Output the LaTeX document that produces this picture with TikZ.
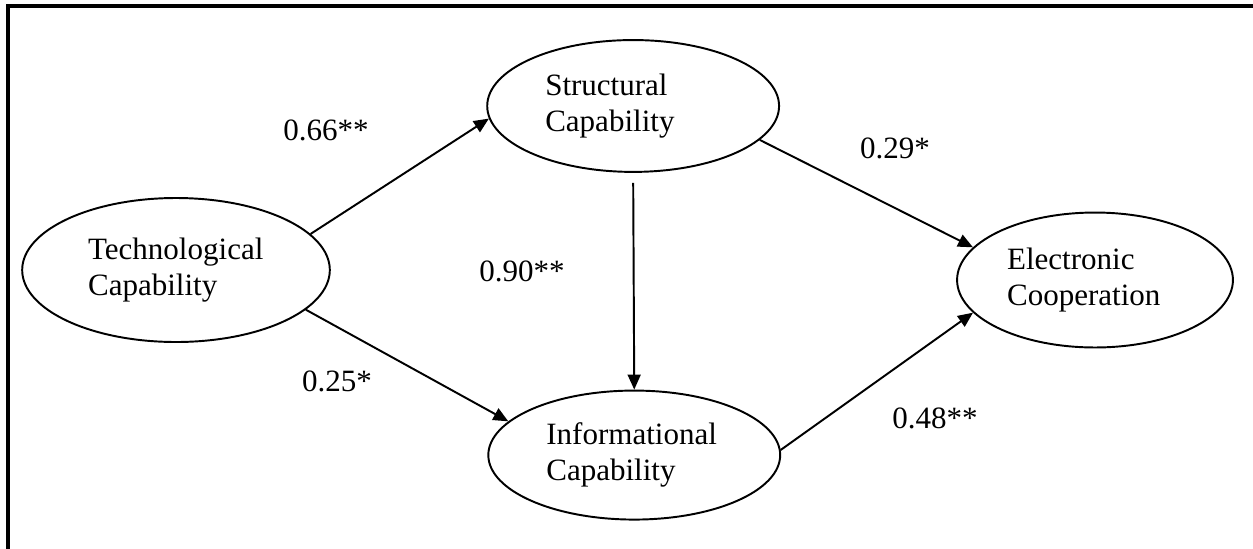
\documentclass[tikz,border=0pt]{standalone}
\usepackage{fontspec}
\setmainfont{Liberation Serif}
\usetikzlibrary{arrows.meta, shapes.geometric, positioning}

\begin{document}
\begin{tikzpicture}[x=0.0136cm, y=-0.0136cm, on grid,
    latent/.style={draw, ellipse, line width=0.75pt, inner xsep=-10pt, inner ysep=0pt,
      align=left, text width=68pt, font=\fontsize{12}{14}\selectfont},
    effect/.style={-{Triangle[length=5.8pt,width=5pt]}, line width=0.75pt},
    coef/.style={font=\fontsize{12}{14}\selectfont}]

  \useasboundingbox (0,0) rectangle (1253,548);
  \clip (0,0) rectangle (1253,548);
  \draw[line width=1.2pt] (8,6) rectangle (1290,590);

  % constructs
  \node[latent, minimum width=119pt, minimum height=55.7pt] (tech) at (176,270) {Technological\\Capability};
  \node[latent, minimum width=112.9pt, minimum height=51pt] (struct) [above right=2.23cm and 6.215cm of tech] {Structural\\Capability};
  \node[latent, minimum width=112.9pt, minimum height=49.9pt] (info) [below right=2.516cm and 6.23cm of tech] {Informational\\Capability};
  \node[latent, minimum width=106.7pt, minimum height=52.2pt] (elec) at (1095,280) {Electronic\\Cooperation};

  % paths
  \draw[effect] (tech.15) -- (struct.185);
  \draw[effect] (tech.-17) -- (info.165);
  \draw[effect, shorten <=3.9pt] (struct.south) -- (info.north);
  \draw[effect] (struct.-15) -- (elec.165);
  \draw[effect] (info.2) -- (elec.195);

  % coefficients
  \node[coef] (c1) at (326,130) {0.66**};
  \node[coef] (c2) at (337,381) {0.25*};
  \node[coef] (c3) at (522,271) {0.90**};
  \node[coef] (c4) at (895,148) {0.29*};
  \node[coef] (c5) at (935,418) {0.48**};
\end{tikzpicture}
\end{document}
